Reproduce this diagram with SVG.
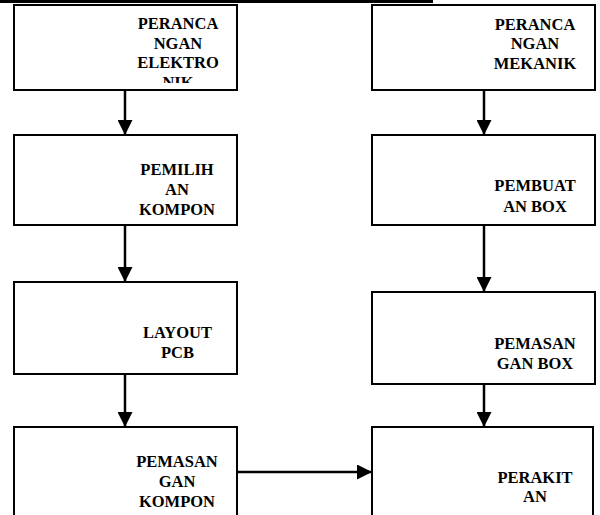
<svg xmlns="http://www.w3.org/2000/svg" width="600" height="515" viewBox="0 0 600 515">
<style>
.box{fill:#fff;stroke:#000;stroke-width:2}
.t{font-family:'Liberation Serif','Times New Roman','DejaVu Serif',serif;font-weight:700;font-size:16.5px;fill:#000;text-anchor:middle}
.c{stroke:#000;stroke-width:2.5;fill:none}
</style>
<defs>
<marker id="ah" viewBox="0 0 10 10" refX="10" refY="5" markerWidth="6" markerHeight="6" markerUnits="strokeWidth" orient="auto">
<path d="M0,0 L10,5 L0,10 Z" fill="#000"/>
</marker>
<clipPath id="clip1"><rect x="14" y="5" width="223" height="78"/></clipPath>
</defs>
<rect x="0" y="0" width="433" height="3" fill="#000"/>
<g id="connectors">
<line class="c" x1="125" y1="90" x2="125" y2="135" marker-end="url(#ah)"/>
<line class="c" x1="125" y1="225" x2="125" y2="282" marker-end="url(#ah)"/>
<line class="c" x1="125" y1="374" x2="125" y2="427" marker-end="url(#ah)"/>
<line class="c" x1="484" y1="90" x2="484" y2="135" marker-end="url(#ah)"/>
<line class="c" x1="484" y1="225" x2="484" y2="292" marker-end="url(#ah)"/>
<line class="c" x1="484" y1="384" x2="484" y2="427" marker-end="url(#ah)"/>
<line class="c" x1="237" y1="472" x2="372" y2="472" marker-end="url(#ah)"/>
</g>
<g id="perancangan-elektronik">
<rect class="box" x="14" y="5" width="223" height="85"/>
<g clip-path="url(#clip1)">
<text class="t" x="178" y="29">PERANCA</text>
<text class="t" x="178" y="48.5">NGAN</text>
<text class="t" x="178" y="68">ELEKTRO</text>
<text class="t" x="178" y="87.5">NIK</text>
</g>
</g>
<g id="pemilihan-kompon">
<rect class="box" x="14" y="135" width="223" height="90"/>
<text class="t" x="177" y="175">PEMILIH</text>
<text class="t" x="177" y="195">AN</text>
<text class="t" x="177" y="215">KOMPON</text>
</g>
<g id="layout-pcb">
<rect class="box" x="14" y="282" width="223" height="92"/>
<text class="t" x="177.5" y="338">LAYOUT</text>
<text class="t" x="177.5" y="358">PCB</text>
</g>
<g id="pemasangan-kompon">
<rect class="box" x="14" y="427" width="223" height="95"/>
<text class="t" x="177" y="467">PEMASAN</text>
<text class="t" x="177" y="487">GAN</text>
<text class="t" x="177" y="507">KOMPON</text>
</g>
<g id="perancangan-mekanik">
<rect class="box" x="372" y="5" width="223" height="85"/>
<text class="t" x="535" y="29.5">PERANCA</text>
<text class="t" x="535" y="49">NGAN</text>
<text class="t" x="535" y="69">MEKANIK</text>
</g>
<g id="pembuatan-box">
<rect class="box" x="372" y="135" width="223" height="90"/>
<text class="t" x="535" y="191">PEMBUAT</text>
<text class="t" x="535" y="212">AN BOX</text>
</g>
<g id="pemasangan-box">
<rect class="box" x="372" y="292" width="223" height="92"/>
<text class="t" x="535" y="349">PEMASAN</text>
<text class="t" x="535" y="369">GAN BOX</text>
</g>
<g id="perakitan">
<rect class="box" x="372" y="427" width="221" height="95"/>
<text class="t" x="535" y="483">PERAKIT</text>
<text class="t" x="535" y="502">AN</text>
</g>
</svg>
